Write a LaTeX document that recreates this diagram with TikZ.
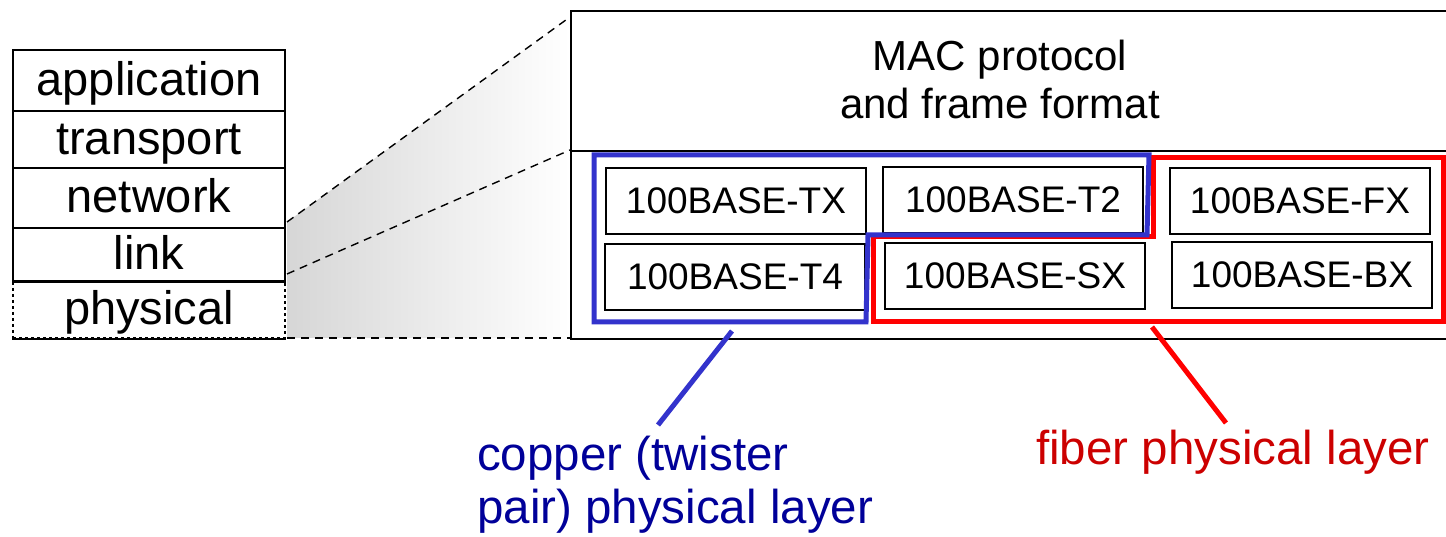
\documentclass[tikz,border=0pt]{standalone}
\usepackage{fontspec}
\setmainfont{Liberation Sans}
\definecolor{culine}{HTML}{3333CC}
\definecolor{cutext}{HTML}{000099}
\definecolor{filine}{HTML}{FF0000}
\definecolor{fitext}{HTML}{CC0000}
\begin{document}
\begin{tikzpicture}[x=1pt, y=-1pt,
      layer/.style={draw, line width=1.6pt, minimum width=272pt, inner sep=0pt, text height=37pt, text depth=7pt, font=\fontsize{47}{47}\selectfont},
      panel/.style={draw, line width=1.6pt, anchor=north west, inner sep=0pt, minimum width=890pt},
      phybox/.style={draw, line width=1.2pt, minimum width=260pt, minimum height=66pt, inner sep=0pt, font=\fontsize{37}{37}\selectfont},
      zoomline/.style={line width=1.4pt, dash pattern=on 8pt off 6pt},
      group/.style={line width=5pt},
      note/.style={anchor=base west, inner sep=0pt, align=left, font=\fontsize{47.5}{53}\selectfont}]
    \useasboundingbox (0,0) rectangle (1446,537);
    % zoom wedge
    \coordinate (lk-top) at (287,222);
    \coordinate (lk-bot) at (287,274);
    \coordinate (ph-bot) at (287,338);
    \coordinate (mac-top) at (570,17);
    \coordinate (mac-bot) at (570,150);
    \coordinate (med-bot) at (570,338);
    \shade[left color=black!16, right color=white] (lk-top) -- (mac-top) -- (med-bot) -- (ph-bot) -- cycle;
    % protocol stack
    \node[layer, minimum height=61pt] (app)  at (149,80.5) {application};
    \node[layer, minimum height=57pt] (trn)  at (149,139.5) {transport};
    \node[layer, minimum height=60pt] (net)  at (149,198) {network};
    \node[layer, minimum height=54pt] (link) at (149,255) {link};
    \node[layer, minimum height=56pt, dashed] (phys) at (149,310) {physical};
    \draw[line width=1.6pt] (phys.south west) -- (phys.south east);
    \draw[line width=1.6pt] (phys.north west) -- (phys.north east);
    % ethernet panels
    \node[panel, minimum height=140pt] (mac)   at (570,10)  {};
    \node[panel, minimum height=188pt] (media) at (570,150) {};
    \node[font=\fontsize{42}{48}\selectfont, align=center] (mactxt) at (1000,79) {MAC protocol\\and frame format};
    \draw[zoomline] (lk-top) -- (mac-top);
    \draw[zoomline] (lk-bot) -- (mac-bot);
    \draw[zoomline] (ph-bot) -- (med-bot);
    \node[phybox] (tx) at (736,201)  {100BASE-TX};
    \node[phybox] (t2) at (1013,200) {100BASE-T2};
    \node[phybox] (fx) at (1300,201) {100BASE-FX};
    \node[phybox] (t4) at (735,277)  {100BASE-T4};
    \node[phybox] (sx) at (1015,276) {100BASE-SX};
    \node[phybox] (bx) at (1302,275) {100BASE-BX};
    % copper and fiber groups
    \draw[group, filine] (1153,158) -- (1443,158) -- (1443,322) -- (873,322) -- (873,237) -- (1153,237) -- cycle;
    \draw[group, culine] (594,155) -- (1149,155) -- (1147,235) -- (868,235) -- (866,322) -- (594,322) -- cycle;
    \node[note, text=cutext] (copper) at (477,523) {copper (twister\\pair) physical layer};
    \node[note, text=fitext] (fiber)  at (1036,464) {fiber physical layer};
    \coordinate (cu-from) at (732,331);
    \coordinate (cu-to)   at (658,425);
    \coordinate (fi-from) at (1152,327);
    \coordinate (fi-to)   at (1226,423);
    \draw[group, culine] (cu-from) -- (cu-to);
    \draw[group, filine] (fi-from) -- (fi-to);
  \end{tikzpicture}
\end{document}
